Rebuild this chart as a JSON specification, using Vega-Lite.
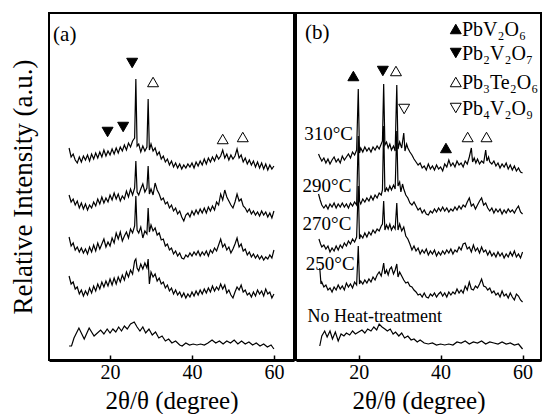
{
"$schema":"https://vega.github.io/schema/vega-lite/v6.json",
"padding":{"left":8,"top":12,"right":3,"bottom":0},
"spacing":0,
"config":{"view":{"stroke":"black","strokeWidth":2},"font":"Liberation Serif","axis":{"labelFont":"Liberation Serif","titleFont":"Liberation Serif","titleFontWeight":"normal","grid":false,"titleColor":"black","labelColor":"black"}},
"datasets":{
"a":[
{"s":1,"x":10,"y":212},{"s":1,"x":10.5,"y":203},{"s":1,"x":11,"y":206},{"s":1,"x":11.5,"y":200},{"s":1,"x":12,"y":197},{"s":1,"x":12.5,"y":203},{"s":1,"x":13,"y":198},{"s":1,"x":13.5,"y":204},{"s":1,"x":14,"y":200},{"s":1,"x":14.5,"y":205},{"s":1,"x":15,"y":199},{"s":1,"x":15.5,"y":206},{"s":1,"x":16,"y":201},{"s":1,"x":16.5,"y":207},{"s":1,"x":17,"y":202},{"s":1,"x":17.5,"y":208},{"s":1,"x":18,"y":203},{"s":1,"x":18.5,"y":210},{"s":1,"x":19,"y":204},{"s":1,"x":19.5,"y":209},{"s":1,"x":20,"y":205},{"s":1,"x":20.5,"y":211},{"s":1,"x":21,"y":206},{"s":1,"x":21.5,"y":212},{"s":1,"x":22,"y":207},{"s":1,"x":22.5,"y":213},{"s":1,"x":23,"y":209},{"s":1,"x":23.5,"y":215},{"s":1,"x":24,"y":210},{"s":1,"x":24.5,"y":217},{"s":1,"x":25,"y":213},{"s":1,"x":25.5,"y":219},{"s":1,"x":26,"y":222},{"s":1,"x":26.3,"y":281},{"s":1,"x":26.6,"y":214},{"s":1,"x":27,"y":216},{"s":1,"x":27.5,"y":208},{"s":1,"x":28,"y":214},{"s":1,"x":28.5,"y":209},{"s":1,"x":29,"y":213},{"s":1,"x":29.3,"y":261},{"s":1,"x":29.6,"y":210},{"s":1,"x":30,"y":216},{"s":1,"x":30.5,"y":209},{"s":1,"x":31,"y":212},{"s":1,"x":31.5,"y":205},{"s":1,"x":32,"y":208},{"s":1,"x":32.5,"y":201},{"s":1,"x":33,"y":204},{"s":1,"x":33.5,"y":198},{"s":1,"x":34,"y":201},{"s":1,"x":34.5,"y":195},{"s":1,"x":35,"y":199},{"s":1,"x":35.5,"y":193},{"s":1,"x":36,"y":197},{"s":1,"x":36.5,"y":192},{"s":1,"x":37,"y":196},{"s":1,"x":37.5,"y":191},{"s":1,"x":38,"y":195},{"s":1,"x":38.5,"y":192},{"s":1,"x":39,"y":196},{"s":1,"x":39.5,"y":193},{"s":1,"x":40,"y":197},{"s":1,"x":40.5,"y":192},{"s":1,"x":41,"y":198},{"s":1,"x":41.5,"y":194},{"s":1,"x":42,"y":199},{"s":1,"x":42.5,"y":195},{"s":1,"x":43,"y":201},{"s":1,"x":43.5,"y":196},{"s":1,"x":44,"y":202},{"s":1,"x":44.5,"y":198},{"s":1,"x":45,"y":203},{"s":1,"x":45.5,"y":199},{"s":1,"x":46,"y":205},{"s":1,"x":46.5,"y":201},{"s":1,"x":47,"y":204},{"s":1,"x":47.5,"y":210},{"s":1,"x":48,"y":202},{"s":1,"x":48.5,"y":206},{"s":1,"x":49,"y":200},{"s":1,"x":49.5,"y":205},{"s":1,"x":50,"y":201},{"s":1,"x":50.5,"y":204},{"s":1,"x":51,"y":211},{"s":1,"x":51.5,"y":202},{"s":1,"x":52,"y":205},{"s":1,"x":52.5,"y":198},{"s":1,"x":53,"y":202},{"s":1,"x":53.5,"y":196},{"s":1,"x":54,"y":200},{"s":1,"x":54.5,"y":195},{"s":1,"x":55,"y":199},{"s":1,"x":55.5,"y":193},{"s":1,"x":56,"y":198},{"s":1,"x":56.5,"y":192},{"s":1,"x":57,"y":197},{"s":1,"x":57.5,"y":191},{"s":1,"x":58,"y":196},{"s":1,"x":58.5,"y":190},{"s":1,"x":59,"y":195},{"s":1,"x":59.5,"y":191},{"s":1,"x":60,"y":194},
{"s":2,"x":10,"y":165},{"s":2,"x":10.5,"y":158},{"s":2,"x":11,"y":161},{"s":2,"x":11.5,"y":155},{"s":2,"x":12,"y":159},{"s":2,"x":12.5,"y":152},{"s":2,"x":13,"y":157},{"s":2,"x":13.5,"y":151},{"s":2,"x":14,"y":156},{"s":2,"x":14.5,"y":150},{"s":2,"x":15,"y":155},{"s":2,"x":15.5,"y":152},{"s":2,"x":16,"y":158},{"s":2,"x":16.5,"y":154},{"s":2,"x":17,"y":161},{"s":2,"x":17.5,"y":156},{"s":2,"x":18,"y":163},{"s":2,"x":18.5,"y":157},{"s":2,"x":19,"y":162},{"s":2,"x":19.5,"y":158},{"s":2,"x":20,"y":165},{"s":2,"x":20.5,"y":160},{"s":2,"x":21,"y":167},{"s":2,"x":21.5,"y":161},{"s":2,"x":22,"y":166},{"s":2,"x":22.5,"y":159},{"s":2,"x":23,"y":164},{"s":2,"x":23.5,"y":161},{"s":2,"x":24,"y":169},{"s":2,"x":24.5,"y":163},{"s":2,"x":25,"y":171},{"s":2,"x":25.5,"y":165},{"s":2,"x":26,"y":172},{"s":2,"x":26.3,"y":199},{"s":2,"x":26.6,"y":168},{"s":2,"x":27,"y":165},{"s":2,"x":27.5,"y":171},{"s":2,"x":28,"y":176},{"s":2,"x":28.5,"y":168},{"s":2,"x":29,"y":172},{"s":2,"x":29.3,"y":194},{"s":2,"x":29.6,"y":166},{"s":2,"x":30,"y":171},{"s":2,"x":30.5,"y":165},{"s":2,"x":31,"y":177},{"s":2,"x":31.5,"y":170},{"s":2,"x":32,"y":166},{"s":2,"x":32.5,"y":160},{"s":2,"x":33,"y":162},{"s":2,"x":33.5,"y":156},{"s":2,"x":34,"y":158},{"s":2,"x":34.5,"y":152},{"s":2,"x":35,"y":155},{"s":2,"x":35.5,"y":149},{"s":2,"x":36,"y":152},{"s":2,"x":36.5,"y":146},{"s":2,"x":37,"y":149},{"s":2,"x":37.5,"y":143},{"s":2,"x":38,"y":139},{"s":2,"x":38.5,"y":145},{"s":2,"x":39,"y":147},{"s":2,"x":39.5,"y":143},{"s":2,"x":40,"y":149},{"s":2,"x":40.5,"y":145},{"s":2,"x":41,"y":150},{"s":2,"x":41.5,"y":146},{"s":2,"x":42,"y":151},{"s":2,"x":42.5,"y":147},{"s":2,"x":43,"y":152},{"s":2,"x":43.5,"y":147},{"s":2,"x":44,"y":153},{"s":2,"x":44.5,"y":149},{"s":2,"x":45,"y":154},{"s":2,"x":45.5,"y":150},{"s":2,"x":46,"y":158},{"s":2,"x":46.5,"y":155},{"s":2,"x":47,"y":166},{"s":2,"x":47.5,"y":160},{"s":2,"x":48,"y":170},{"s":2,"x":48.5,"y":163},{"s":2,"x":49,"y":159},{"s":2,"x":49.5,"y":155},{"s":2,"x":50,"y":152},{"s":2,"x":50.5,"y":158},{"s":2,"x":51,"y":166},{"s":2,"x":51.5,"y":159},{"s":2,"x":52,"y":161},{"s":2,"x":52.5,"y":154},{"s":2,"x":53,"y":152},{"s":2,"x":53.5,"y":148},{"s":2,"x":54,"y":151},{"s":2,"x":54.5,"y":146},{"s":2,"x":55,"y":149},{"s":2,"x":55.5,"y":145},{"s":2,"x":56,"y":148},{"s":2,"x":56.5,"y":144},{"s":2,"x":57,"y":149},{"s":2,"x":57.5,"y":145},{"s":2,"x":58,"y":148},{"s":2,"x":58.5,"y":143},{"s":2,"x":59,"y":147},{"s":2,"x":59.5,"y":142},{"s":2,"x":60,"y":149},
{"s":3,"x":10,"y":123},{"s":3,"x":10.5,"y":114},{"s":3,"x":11,"y":117},{"s":3,"x":11.5,"y":110},{"s":3,"x":12,"y":113},{"s":3,"x":12.5,"y":108},{"s":3,"x":13,"y":112},{"s":3,"x":13.5,"y":107},{"s":3,"x":14,"y":111},{"s":3,"x":14.5,"y":106},{"s":3,"x":15,"y":113},{"s":3,"x":15.5,"y":108},{"s":3,"x":16,"y":115},{"s":3,"x":16.5,"y":109},{"s":3,"x":17,"y":117},{"s":3,"x":17.5,"y":111},{"s":3,"x":18,"y":116},{"s":3,"x":18.5,"y":121},{"s":3,"x":19,"y":113},{"s":3,"x":19.5,"y":118},{"s":3,"x":20,"y":114},{"s":3,"x":20.5,"y":122},{"s":3,"x":21,"y":117},{"s":3,"x":21.5,"y":127},{"s":3,"x":22,"y":121},{"s":3,"x":22.5,"y":128},{"s":3,"x":23,"y":119},{"s":3,"x":23.5,"y":124},{"s":3,"x":24,"y":128},{"s":3,"x":24.5,"y":122},{"s":3,"x":25,"y":131},{"s":3,"x":25.5,"y":127},{"s":3,"x":26,"y":134},{"s":3,"x":26.3,"y":164},{"s":3,"x":26.6,"y":130},{"s":3,"x":27,"y":127},{"s":3,"x":27.5,"y":133},{"s":3,"x":28,"y":122},{"s":3,"x":28.5,"y":129},{"s":3,"x":29,"y":126},{"s":3,"x":29.3,"y":152},{"s":3,"x":29.6,"y":128},{"s":3,"x":30,"y":135},{"s":3,"x":30.5,"y":129},{"s":3,"x":31,"y":132},{"s":3,"x":31.5,"y":125},{"s":3,"x":32,"y":127},{"s":3,"x":32.5,"y":120},{"s":3,"x":33,"y":121},{"s":3,"x":33.5,"y":114},{"s":3,"x":34,"y":116},{"s":3,"x":34.5,"y":110},{"s":3,"x":35,"y":112},{"s":3,"x":35.5,"y":106},{"s":3,"x":36,"y":109},{"s":3,"x":36.5,"y":104},{"s":3,"x":37,"y":107},{"s":3,"x":37.5,"y":102},{"s":3,"x":38,"y":101},{"s":3,"x":38.5,"y":105},{"s":3,"x":39,"y":103},{"s":3,"x":39.5,"y":107},{"s":3,"x":40,"y":104},{"s":3,"x":40.5,"y":108},{"s":3,"x":41,"y":105},{"s":3,"x":41.5,"y":109},{"s":3,"x":42,"y":104},{"s":3,"x":42.5,"y":108},{"s":3,"x":43,"y":105},{"s":3,"x":43.5,"y":109},{"s":3,"x":44,"y":104},{"s":3,"x":44.5,"y":110},{"s":3,"x":45,"y":107},{"s":3,"x":45.5,"y":112},{"s":3,"x":46,"y":109},{"s":3,"x":46.5,"y":115},{"s":3,"x":47,"y":121},{"s":3,"x":47.5,"y":113},{"s":3,"x":48,"y":116},{"s":3,"x":48.5,"y":110},{"s":3,"x":49,"y":113},{"s":3,"x":49.5,"y":107},{"s":3,"x":50,"y":111},{"s":3,"x":50.5,"y":116},{"s":3,"x":51,"y":122},{"s":3,"x":51.5,"y":113},{"s":3,"x":52,"y":116},{"s":3,"x":52.5,"y":109},{"s":3,"x":53,"y":111},{"s":3,"x":53.5,"y":105},{"s":3,"x":54,"y":108},{"s":3,"x":54.5,"y":103},{"s":3,"x":55,"y":106},{"s":3,"x":55.5,"y":102},{"s":3,"x":56,"y":105},{"s":3,"x":56.5,"y":101},{"s":3,"x":57,"y":104},{"s":3,"x":57.5,"y":100},{"s":3,"x":58,"y":103},{"s":3,"x":58.5,"y":101},{"s":3,"x":59,"y":105},{"s":3,"x":59.5,"y":102},{"s":3,"x":60,"y":110},
{"s":4,"x":10,"y":84},{"s":4,"x":10.5,"y":76},{"s":4,"x":11,"y":78},{"s":4,"x":11.5,"y":71},{"s":4,"x":12,"y":73},{"s":4,"x":12.5,"y":66},{"s":4,"x":13,"y":70},{"s":4,"x":13.5,"y":64},{"s":4,"x":14,"y":69},{"s":4,"x":14.5,"y":65},{"s":4,"x":15,"y":72},{"s":4,"x":15.5,"y":67},{"s":4,"x":16,"y":74},{"s":4,"x":16.5,"y":69},{"s":4,"x":17,"y":76},{"s":4,"x":17.5,"y":71},{"s":4,"x":18,"y":78},{"s":4,"x":18.5,"y":73},{"s":4,"x":19,"y":79},{"s":4,"x":19.5,"y":74},{"s":4,"x":20,"y":81},{"s":4,"x":20.5,"y":75},{"s":4,"x":21,"y":82},{"s":4,"x":21.5,"y":76},{"s":4,"x":22,"y":83},{"s":4,"x":22.5,"y":78},{"s":4,"x":23,"y":85},{"s":4,"x":23.5,"y":80},{"s":4,"x":24,"y":88},{"s":4,"x":24.5,"y":83},{"s":4,"x":25,"y":90},{"s":4,"x":25.5,"y":86},{"s":4,"x":26,"y":99},{"s":4,"x":26.3,"y":101},{"s":4,"x":26.6,"y":92},{"s":4,"x":27,"y":89},{"s":4,"x":27.5,"y":96},{"s":4,"x":28,"y":91},{"s":4,"x":28.5,"y":97},{"s":4,"x":29,"y":92},{"s":4,"x":29.3,"y":101},{"s":4,"x":29.6,"y":76},{"s":4,"x":30,"y":88},{"s":4,"x":30.5,"y":83},{"s":4,"x":31,"y":86},{"s":4,"x":31.5,"y":79},{"s":4,"x":32,"y":82},{"s":4,"x":32.5,"y":76},{"s":4,"x":33,"y":78},{"s":4,"x":33.5,"y":72},{"s":4,"x":34,"y":75},{"s":4,"x":34.5,"y":69},{"s":4,"x":35,"y":72},{"s":4,"x":35.5,"y":66},{"s":4,"x":36,"y":70},{"s":4,"x":36.5,"y":65},{"s":4,"x":37,"y":68},{"s":4,"x":37.5,"y":63},{"s":4,"x":38,"y":67},{"s":4,"x":38.5,"y":62},{"s":4,"x":39,"y":66},{"s":4,"x":39.5,"y":63},{"s":4,"x":40,"y":68},{"s":4,"x":40.5,"y":64},{"s":4,"x":41,"y":69},{"s":4,"x":41.5,"y":65},{"s":4,"x":42,"y":70},{"s":4,"x":42.5,"y":66},{"s":4,"x":43,"y":71},{"s":4,"x":43.5,"y":67},{"s":4,"x":44,"y":72},{"s":4,"x":44.5,"y":68},{"s":4,"x":45,"y":74},{"s":4,"x":45.5,"y":69},{"s":4,"x":46,"y":73},{"s":4,"x":46.5,"y":70},{"s":4,"x":47,"y":76},{"s":4,"x":47.5,"y":71},{"s":4,"x":48,"y":75},{"s":4,"x":48.5,"y":67},{"s":4,"x":49,"y":70},{"s":4,"x":49.5,"y":65},{"s":4,"x":50,"y":62},{"s":4,"x":50.5,"y":68},{"s":4,"x":51,"y":73},{"s":4,"x":51.5,"y":70},{"s":4,"x":52,"y":75},{"s":4,"x":52.5,"y":68},{"s":4,"x":53,"y":70},{"s":4,"x":53.5,"y":65},{"s":4,"x":54,"y":67},{"s":4,"x":54.5,"y":63},{"s":4,"x":55,"y":68},{"s":4,"x":55.5,"y":64},{"s":4,"x":56,"y":70},{"s":4,"x":56.5,"y":66},{"s":4,"x":57,"y":69},{"s":4,"x":57.5,"y":64},{"s":4,"x":58,"y":71},{"s":4,"x":58.5,"y":66},{"s":4,"x":59,"y":68},{"s":4,"x":59.5,"y":62},{"s":4,"x":60,"y":66},
{"s":5,"x":10,"y":14},{"s":5,"x":10.6,"y":14},{"s":5,"x":11.2,"y":22},{"s":5,"x":12.4,"y":32},{"s":5,"x":13.7,"y":21},{"s":5,"x":14.9,"y":32},{"s":5,"x":16.1,"y":24},{"s":5,"x":17.7,"y":30},{"s":5,"x":18.5,"y":26},{"s":5,"x":19.3,"y":31},{"s":5,"x":20,"y":27},{"s":5,"x":20.7,"y":31},{"s":5,"x":21.4,"y":28},{"s":5,"x":22.1,"y":33},{"s":5,"x":22.8,"y":29},{"s":5,"x":23.5,"y":34},{"s":5,"x":24.2,"y":31},{"s":5,"x":25,"y":36},{"s":5,"x":25.9,"y":38},{"s":5,"x":26.6,"y":33},{"s":5,"x":27.3,"y":29},{"s":5,"x":28,"y":33},{"s":5,"x":28.7,"y":27},{"s":5,"x":29.5,"y":31},{"s":5,"x":30.3,"y":25},{"s":5,"x":31.1,"y":28},{"s":5,"x":31.9,"y":22},{"s":5,"x":32.7,"y":24},{"s":5,"x":33.5,"y":19},{"s":5,"x":34.3,"y":21},{"s":5,"x":35.1,"y":17},{"s":5,"x":36,"y":19},{"s":5,"x":37,"y":15},{"s":5,"x":37.6,"y":14},{"s":5,"x":38.5,"y":17},{"s":5,"x":39.4,"y":15},{"s":5,"x":40.3,"y":16},{"s":5,"x":41.2,"y":15},{"s":5,"x":42.1,"y":16},{"s":5,"x":43,"y":15},{"s":5,"x":43.9,"y":17},{"s":5,"x":44.9,"y":20},{"s":5,"x":45.8,"y":17},{"s":5,"x":46.7,"y":19},{"s":5,"x":47.6,"y":16},{"s":5,"x":48.5,"y":19},{"s":5,"x":49.4,"y":17},{"s":5,"x":50.3,"y":20},{"s":5,"x":51.2,"y":16},{"s":5,"x":52.1,"y":19},{"s":5,"x":53,"y":16},{"s":5,"x":53.9,"y":18},{"s":5,"x":54.8,"y":15},{"s":5,"x":55.7,"y":17},{"s":5,"x":56.6,"y":14},{"s":5,"x":57.5,"y":16},{"s":5,"x":58.4,"y":13},{"s":5,"x":59.3,"y":15},{"s":5,"x":60,"y":11}
],
"b":[
{"s":1,"x":10.2,"y":206},{"s":1,"x":10.5,"y":203},{"s":1,"x":11,"y":199},{"s":1,"x":11.5,"y":202},{"s":1,"x":12,"y":197},{"s":1,"x":12.5,"y":201},{"s":1,"x":13,"y":196},{"s":1,"x":13.5,"y":200},{"s":1,"x":14,"y":203},{"s":1,"x":14.5,"y":198},{"s":1,"x":15,"y":201},{"s":1,"x":15.5,"y":197},{"s":1,"x":16,"y":204},{"s":1,"x":16.5,"y":200},{"s":1,"x":17,"y":203},{"s":1,"x":17.5,"y":206},{"s":1,"x":18,"y":202},{"s":1,"x":18.5,"y":208},{"s":1,"x":19,"y":205},{"s":1,"x":19.5,"y":210},{"s":1,"x":19.9,"y":271},{"s":1,"x":20.2,"y":207},{"s":1,"x":20.5,"y":212},{"s":1,"x":21,"y":208},{"s":1,"x":21.5,"y":213},{"s":1,"x":22,"y":209},{"s":1,"x":22.5,"y":212},{"s":1,"x":23,"y":208},{"s":1,"x":23.5,"y":213},{"s":1,"x":24,"y":210},{"s":1,"x":24.5,"y":214},{"s":1,"x":25,"y":211},{"s":1,"x":25.5,"y":216},{"s":1,"x":25.8,"y":219},{"s":1,"x":26.1,"y":276},{"s":1,"x":26.4,"y":215},{"s":1,"x":26.8,"y":218},{"s":1,"x":27.2,"y":212},{"s":1,"x":27.6,"y":216},{"s":1,"x":28,"y":210},{"s":1,"x":28.5,"y":214},{"s":1,"x":28.9,"y":209},{"s":1,"x":29.3,"y":275},{"s":1,"x":29.6,"y":211},{"s":1,"x":30,"y":218},{"s":1,"x":30.5,"y":212},{"s":1,"x":31,"y":227},{"s":1,"x":31.3,"y":209},{"s":1,"x":31.7,"y":216},{"s":1,"x":32,"y":212},{"s":1,"x":32.5,"y":208},{"s":1,"x":33,"y":205},{"s":1,"x":33.5,"y":201},{"s":1,"x":34,"y":198},{"s":1,"x":34.5,"y":195},{"s":1,"x":35,"y":197},{"s":1,"x":35.5,"y":192},{"s":1,"x":36,"y":194},{"s":1,"x":36.5,"y":190},{"s":1,"x":37,"y":196},{"s":1,"x":37.5,"y":191},{"s":1,"x":38,"y":194},{"s":1,"x":38.5,"y":190},{"s":1,"x":39,"y":195},{"s":1,"x":39.5,"y":191},{"s":1,"x":40,"y":193},{"s":1,"x":40.5,"y":189},{"s":1,"x":41,"y":196},{"s":1,"x":41.5,"y":193},{"s":1,"x":42,"y":200},{"s":1,"x":42.5,"y":194},{"s":1,"x":43,"y":197},{"s":1,"x":43.5,"y":193},{"s":1,"x":44,"y":199},{"s":1,"x":44.5,"y":195},{"s":1,"x":45,"y":197},{"s":1,"x":45.5,"y":193},{"s":1,"x":46,"y":199},{"s":1,"x":46.5,"y":196},{"s":1,"x":47,"y":203},{"s":1,"x":47.5,"y":212},{"s":1,"x":47.8,"y":198},{"s":1,"x":48.2,"y":202},{"s":1,"x":48.6,"y":197},{"s":1,"x":49,"y":201},{"s":1,"x":49.5,"y":196},{"s":1,"x":50,"y":199},{"s":1,"x":50.5,"y":197},{"s":1,"x":51,"y":210},{"s":1,"x":51.3,"y":199},{"s":1,"x":51.7,"y":203},{"s":1,"x":52,"y":198},{"s":1,"x":52.5,"y":196},{"s":1,"x":53,"y":199},{"s":1,"x":53.5,"y":194},{"s":1,"x":54,"y":197},{"s":1,"x":54.5,"y":192},{"s":1,"x":55,"y":196},{"s":1,"x":55.5,"y":193},{"s":1,"x":56,"y":197},{"s":1,"x":56.5,"y":191},{"s":1,"x":57,"y":195},{"s":1,"x":57.5,"y":190},{"s":1,"x":58,"y":194},{"s":1,"x":58.5,"y":189},{"s":1,"x":59,"y":192},{"s":1,"x":59.5,"y":188},{"s":1,"x":60,"y":187},
{"s":2,"x":10.2,"y":166},{"s":2,"x":10.6,"y":160},{"s":2,"x":11,"y":155},{"s":2,"x":11.5,"y":152},{"s":2,"x":12,"y":155},{"s":2,"x":12.5,"y":151},{"s":2,"x":13,"y":156},{"s":2,"x":13.5,"y":153},{"s":2,"x":14,"y":157},{"s":2,"x":14.5,"y":152},{"s":2,"x":15,"y":156},{"s":2,"x":15.5,"y":153},{"s":2,"x":16,"y":157},{"s":2,"x":16.5,"y":153},{"s":2,"x":17,"y":156},{"s":2,"x":17.5,"y":152},{"s":2,"x":18,"y":157},{"s":2,"x":18.5,"y":154},{"s":2,"x":19,"y":158},{"s":2,"x":19.5,"y":155},{"s":2,"x":19.9,"y":224},{"s":2,"x":20.2,"y":159},{"s":2,"x":20.5,"y":156},{"s":2,"x":21,"y":161},{"s":2,"x":21.5,"y":158},{"s":2,"x":22,"y":162},{"s":2,"x":22.5,"y":159},{"s":2,"x":23,"y":164},{"s":2,"x":23.5,"y":160},{"s":2,"x":24,"y":165},{"s":2,"x":24.5,"y":162},{"s":2,"x":25,"y":167},{"s":2,"x":25.5,"y":165},{"s":2,"x":25.8,"y":170},{"s":2,"x":26.1,"y":234},{"s":2,"x":26.4,"y":168},{"s":2,"x":26.8,"y":172},{"s":2,"x":27.2,"y":169},{"s":2,"x":27.6,"y":174},{"s":2,"x":28,"y":170},{"s":2,"x":28.5,"y":175},{"s":2,"x":28.9,"y":171},{"s":2,"x":29.3,"y":229},{"s":2,"x":29.6,"y":174},{"s":2,"x":30,"y":178},{"s":2,"x":30.3,"y":168},{"s":2,"x":30.7,"y":176},{"s":2,"x":31,"y":171},{"s":2,"x":31.5,"y":165},{"s":2,"x":32,"y":162},{"s":2,"x":32.5,"y":157},{"s":2,"x":33,"y":155},{"s":2,"x":33.5,"y":158},{"s":2,"x":34,"y":154},{"s":2,"x":34.5,"y":150},{"s":2,"x":35,"y":152},{"s":2,"x":35.5,"y":147},{"s":2,"x":36,"y":150},{"s":2,"x":36.5,"y":146},{"s":2,"x":37,"y":145},{"s":2,"x":37.5,"y":149},{"s":2,"x":38,"y":147},{"s":2,"x":38.5,"y":151},{"s":2,"x":39,"y":148},{"s":2,"x":39.5,"y":152},{"s":2,"x":40,"y":149},{"s":2,"x":40.5,"y":153},{"s":2,"x":41,"y":149},{"s":2,"x":41.5,"y":152},{"s":2,"x":42,"y":148},{"s":2,"x":42.5,"y":151},{"s":2,"x":43,"y":149},{"s":2,"x":43.5,"y":153},{"s":2,"x":44,"y":150},{"s":2,"x":44.5,"y":154},{"s":2,"x":45,"y":151},{"s":2,"x":45.5,"y":155},{"s":2,"x":46,"y":153},{"s":2,"x":46.5,"y":158},{"s":2,"x":47,"y":162},{"s":2,"x":47.5,"y":154},{"s":2,"x":48,"y":156},{"s":2,"x":48.5,"y":151},{"s":2,"x":49,"y":155},{"s":2,"x":49.5,"y":159},{"s":2,"x":50,"y":162},{"s":2,"x":50.5,"y":155},{"s":2,"x":51,"y":157},{"s":2,"x":51.5,"y":152},{"s":2,"x":52,"y":149},{"s":2,"x":52.5,"y":152},{"s":2,"x":53,"y":147},{"s":2,"x":53.5,"y":151},{"s":2,"x":54,"y":148},{"s":2,"x":54.5,"y":151},{"s":2,"x":55,"y":146},{"s":2,"x":55.5,"y":150},{"s":2,"x":56,"y":147},{"s":2,"x":56.5,"y":151},{"s":2,"x":57,"y":148},{"s":2,"x":57.5,"y":150},{"s":2,"x":58,"y":147},{"s":2,"x":58.5,"y":151},{"s":2,"x":59,"y":154},{"s":2,"x":59.5,"y":148},{"s":2,"x":60,"y":146},
{"s":3,"x":10.3,"y":121},{"s":3,"x":10.7,"y":116},{"s":3,"x":11,"y":113},{"s":3,"x":11.5,"y":115},{"s":3,"x":12,"y":111},{"s":3,"x":12.5,"y":114},{"s":3,"x":13,"y":108},{"s":3,"x":13.5,"y":112},{"s":3,"x":14,"y":109},{"s":3,"x":14.5,"y":114},{"s":3,"x":15,"y":110},{"s":3,"x":15.5,"y":115},{"s":3,"x":16,"y":112},{"s":3,"x":16.5,"y":117},{"s":3,"x":17,"y":114},{"s":3,"x":17.5,"y":119},{"s":3,"x":18,"y":116},{"s":3,"x":18.5,"y":121},{"s":3,"x":19,"y":118},{"s":3,"x":19.5,"y":123},{"s":3,"x":19.9,"y":174},{"s":3,"x":20.2,"y":121},{"s":3,"x":20.5,"y":125},{"s":3,"x":21,"y":122},{"s":3,"x":21.5,"y":127},{"s":3,"x":22,"y":123},{"s":3,"x":22.5,"y":128},{"s":3,"x":23,"y":125},{"s":3,"x":23.5,"y":130},{"s":3,"x":24,"y":127},{"s":3,"x":24.5,"y":131},{"s":3,"x":25,"y":129},{"s":3,"x":25.5,"y":134},{"s":3,"x":25.8,"y":136},{"s":3,"x":26.1,"y":159},{"s":3,"x":26.4,"y":130},{"s":3,"x":26.8,"y":135},{"s":3,"x":27.2,"y":131},{"s":3,"x":27.6,"y":136},{"s":3,"x":28,"y":130},{"s":3,"x":28.5,"y":134},{"s":3,"x":28.9,"y":131},{"s":3,"x":29.3,"y":157},{"s":3,"x":29.6,"y":130},{"s":3,"x":30,"y":136},{"s":3,"x":30.5,"y":129},{"s":3,"x":31,"y":133},{"s":3,"x":31.5,"y":124},{"s":3,"x":32,"y":121},{"s":3,"x":32.5,"y":116},{"s":3,"x":33,"y":110},{"s":3,"x":33.5,"y":114},{"s":3,"x":34,"y":109},{"s":3,"x":34.5,"y":112},{"s":3,"x":35,"y":106},{"s":3,"x":35.5,"y":110},{"s":3,"x":36,"y":107},{"s":3,"x":36.5,"y":111},{"s":3,"x":37,"y":105},{"s":3,"x":37.5,"y":109},{"s":3,"x":38,"y":106},{"s":3,"x":38.5,"y":110},{"s":3,"x":39,"y":104},{"s":3,"x":39.5,"y":108},{"s":3,"x":40,"y":105},{"s":3,"x":40.5,"y":109},{"s":3,"x":41,"y":106},{"s":3,"x":41.5,"y":110},{"s":3,"x":42,"y":107},{"s":3,"x":42.5,"y":111},{"s":3,"x":43,"y":106},{"s":3,"x":43.5,"y":110},{"s":3,"x":44,"y":108},{"s":3,"x":44.5,"y":113},{"s":3,"x":45,"y":110},{"s":3,"x":45.5,"y":116},{"s":3,"x":46,"y":117},{"s":3,"x":46.5,"y":111},{"s":3,"x":47,"y":113},{"s":3,"x":47.5,"y":108},{"s":3,"x":48,"y":115},{"s":3,"x":48.5,"y":109},{"s":3,"x":49,"y":112},{"s":3,"x":49.5,"y":107},{"s":3,"x":50,"y":113},{"s":3,"x":50.5,"y":108},{"s":3,"x":51,"y":110},{"s":3,"x":51.5,"y":105},{"s":3,"x":52,"y":109},{"s":3,"x":52.5,"y":104},{"s":3,"x":53,"y":107},{"s":3,"x":53.5,"y":103},{"s":3,"x":54,"y":108},{"s":3,"x":54.5,"y":104},{"s":3,"x":55,"y":107},{"s":3,"x":55.5,"y":102},{"s":3,"x":56,"y":106},{"s":3,"x":56.5,"y":103},{"s":3,"x":57,"y":108},{"s":3,"x":57.5,"y":104},{"s":3,"x":58,"y":109},{"s":3,"x":58.5,"y":103},{"s":3,"x":59,"y":106},{"s":3,"x":59.5,"y":102},{"s":3,"x":60,"y":108},
{"s":4,"x":10.5,"y":92},{"s":4,"x":10.8,"y":76},{"s":4,"x":11,"y":78},{"s":4,"x":11.5,"y":73},{"s":4,"x":12,"y":75},{"s":4,"x":12.5,"y":70},{"s":4,"x":13,"y":72},{"s":4,"x":13.5,"y":68},{"s":4,"x":14,"y":73},{"s":4,"x":14.5,"y":70},{"s":4,"x":15,"y":75},{"s":4,"x":15.5,"y":71},{"s":4,"x":16,"y":74},{"s":4,"x":16.5,"y":70},{"s":4,"x":17,"y":77},{"s":4,"x":17.5,"y":73},{"s":4,"x":18,"y":76},{"s":4,"x":18.5,"y":72},{"s":4,"x":19,"y":78},{"s":4,"x":19.5,"y":75},{"s":4,"x":19.9,"y":114},{"s":4,"x":20.2,"y":76},{"s":4,"x":20.5,"y":79},{"s":4,"x":21,"y":76},{"s":4,"x":21.5,"y":80},{"s":4,"x":22,"y":77},{"s":4,"x":22.5,"y":81},{"s":4,"x":23,"y":78},{"s":4,"x":23.5,"y":83},{"s":4,"x":24,"y":80},{"s":4,"x":24.5,"y":85},{"s":4,"x":25,"y":88},{"s":4,"x":25.5,"y":84},{"s":4,"x":25.8,"y":90},{"s":4,"x":26.1,"y":97},{"s":4,"x":26.4,"y":86},{"s":4,"x":26.8,"y":90},{"s":4,"x":27.2,"y":85},{"s":4,"x":27.6,"y":91},{"s":4,"x":28,"y":93},{"s":4,"x":28.5,"y":86},{"s":4,"x":28.9,"y":90},{"s":4,"x":29.3,"y":96},{"s":4,"x":29.6,"y":83},{"s":4,"x":30,"y":88},{"s":4,"x":30.5,"y":84},{"s":4,"x":31,"y":80},{"s":4,"x":31.5,"y":77},{"s":4,"x":32,"y":78},{"s":4,"x":32.5,"y":74},{"s":4,"x":33,"y":73},{"s":4,"x":33.5,"y":70},{"s":4,"x":34,"y":68},{"s":4,"x":34.5,"y":65},{"s":4,"x":35,"y":66},{"s":4,"x":35.5,"y":63},{"s":4,"x":36,"y":67},{"s":4,"x":36.5,"y":63},{"s":4,"x":37,"y":62},{"s":4,"x":37.5,"y":66},{"s":4,"x":38,"y":64},{"s":4,"x":38.5,"y":67},{"s":4,"x":39,"y":63},{"s":4,"x":39.5,"y":66},{"s":4,"x":40,"y":68},{"s":4,"x":40.5,"y":64},{"s":4,"x":41,"y":67},{"s":4,"x":41.5,"y":63},{"s":4,"x":42,"y":68},{"s":4,"x":42.5,"y":65},{"s":4,"x":43,"y":68},{"s":4,"x":43.5,"y":66},{"s":4,"x":44,"y":71},{"s":4,"x":44.5,"y":67},{"s":4,"x":45,"y":70},{"s":4,"x":45.5,"y":67},{"s":4,"x":46,"y":74},{"s":4,"x":46.5,"y":70},{"s":4,"x":47,"y":78},{"s":4,"x":47.5,"y":71},{"s":4,"x":48,"y":70},{"s":4,"x":48.5,"y":74},{"s":4,"x":49,"y":72},{"s":4,"x":49.5,"y":76},{"s":4,"x":50,"y":81},{"s":4,"x":50.5,"y":74},{"s":4,"x":51,"y":73},{"s":4,"x":51.5,"y":70},{"s":4,"x":52,"y":72},{"s":4,"x":52.5,"y":67},{"s":4,"x":53,"y":69},{"s":4,"x":53.5,"y":65},{"s":4,"x":54,"y":67},{"s":4,"x":54.5,"y":63},{"s":4,"x":55,"y":69},{"s":4,"x":55.5,"y":64},{"s":4,"x":56,"y":66},{"s":4,"x":56.5,"y":62},{"s":4,"x":57,"y":67},{"s":4,"x":57.5,"y":63},{"s":4,"x":58,"y":60},{"s":4,"x":58.5,"y":66},{"s":4,"x":59,"y":64},{"s":4,"x":59.5,"y":60},{"s":4,"x":60,"y":58},
{"s":5,"x":10.5,"y":14},{"s":5,"x":11,"y":24},{"s":5,"x":11.7,"y":29},{"s":5,"x":12.3,"y":23},{"s":5,"x":13,"y":29},{"s":5,"x":13.6,"y":21},{"s":5,"x":14.3,"y":28},{"s":5,"x":15,"y":19},{"s":5,"x":15.7,"y":26},{"s":5,"x":16.4,"y":24},{"s":5,"x":17,"y":27},{"s":5,"x":17.8,"y":25},{"s":5,"x":18.5,"y":29},{"s":5,"x":19.2,"y":26},{"s":5,"x":20,"y":28},{"s":5,"x":20.8,"y":30},{"s":5,"x":21.5,"y":27},{"s":5,"x":22.2,"y":31},{"s":5,"x":23,"y":29},{"s":5,"x":23.7,"y":33},{"s":5,"x":24.4,"y":30},{"s":5,"x":25,"y":36},{"s":5,"x":25.7,"y":33},{"s":5,"x":26.4,"y":31},{"s":5,"x":27,"y":29},{"s":5,"x":27.7,"y":31},{"s":5,"x":28.4,"y":26},{"s":5,"x":29,"y":28},{"s":5,"x":29.8,"y":24},{"s":5,"x":30.5,"y":27},{"s":5,"x":31.2,"y":22},{"s":5,"x":32,"y":24},{"s":5,"x":32.8,"y":20},{"s":5,"x":33.5,"y":21},{"s":5,"x":34.3,"y":18},{"s":5,"x":35,"y":20},{"s":5,"x":36,"y":17},{"s":5,"x":37,"y":16},{"s":5,"x":38,"y":17},{"s":5,"x":39,"y":15},{"s":5,"x":40,"y":16},{"s":5,"x":41,"y":15},{"s":5,"x":42,"y":16},{"s":5,"x":43,"y":15},{"s":5,"x":44,"y":18},{"s":5,"x":45,"y":17},{"s":5,"x":46,"y":19},{"s":5,"x":47,"y":16},{"s":5,"x":48,"y":18},{"s":5,"x":49,"y":17},{"s":5,"x":50,"y":19},{"s":5,"x":51,"y":16},{"s":5,"x":52,"y":18},{"s":5,"x":53,"y":17},{"s":5,"x":54,"y":16},{"s":5,"x":55,"y":18},{"s":5,"x":56,"y":16},{"s":5,"x":57,"y":17},{"s":5,"x":58,"y":15},{"s":5,"x":59,"y":16},{"s":5,"x":60,"y":11}
],
"ma":[
{"x":25.4,"y":297,"k":"Pb2V2O7"},{"x":30.5,"y":278,"k":"Pb3Te2O6"},{"x":19.4,"y":228,"k":"Pb2V2O7"},{"x":23.2,"y":233,"k":"Pb2V2O7"},{"x":47.5,"y":221,"k":"Pb3Te2O6"},{"x":52.4,"y":223,"k":"Pb3Te2O6"}
],
"mb":[
{"x":18.7,"y":284,"k":"PbV2O6"},{"x":25.9,"y":289,"k":"Pb2V2O7"},{"x":29.1,"y":289,"k":"Pb3Te2O6"},{"x":31.1,"y":251,"k":"Pb4V2O9"},{"x":41.3,"y":212,"k":"PbV2O6"},{"x":46.6,"y":223,"k":"Pb3Te2O6"},{"x":51.2,"y":223,"k":"Pb3Te2O6"},
{"x":43.7,"y":331,"k":"PbV2O6"},{"x":43.7,"y":307,"k":"Pb2V2O7"},{"x":43.7,"y":278,"k":"Pb3Te2O6"},{"x":43.7,"y":252,"k":"Pb4V2O9"}
],
"ta":[
{"x":6.1,"y":325,"t":"(a)","k":"panel"}
],
"tb":[
{"x":6.9,"y":327,"t":"(b)","k":"panel"},
{"x":45.2,"y":330,"t":"PbV₂O₆","k":"formula"},{"x":45.2,"y":306,"t":"Pb₂V₂O₇","k":"formula"},{"x":45.2,"y":277,"t":"Pb₃Te₂O₆","k":"formula"},{"x":45.2,"y":251,"t":"Pb₄V₂O₉","k":"formula"},
{"x":6.7,"y":226,"t":"310°C","k":"temp"},{"x":6.3,"y":174,"t":"290°C","k":"temp"},{"x":6.3,"y":136,"t":"270°C","k":"temp"},{"x":7.1,"y":96,"t":"250°C","k":"temp"},
{"x":7.5,"y":43,"t":"No Heat-treatment","k":"note"}
]
},
"hconcat":[
{"width":245,"height":347,
"layer":[
{"data":{"name":"a"},"mark":{"type":"line","stroke":"black","strokeWidth":1.2},
"encoding":{"x":{"field":"x","type":"quantitative","scale":{"domain":[5.1,64.9],"nice":false,"zero":false},
"axis":{"values":[20,40,60],"title":"2θ/θ (degree)","titleFontSize":25,"labelFontSize":20,"tickSize":-5,"tickColor":"black","tickWidth":1.5,"labelPadding":7,"titlePadding":6,"domainColor":"black","domainWidth":3,
"encode":{"labels":{"update":{"font":{"value":"Liberation Serif"}}},"title":{"update":{"font":{"value":"Liberation Serif"}}}}}},
"y":{"field":"y","type":"quantitative","scale":{"domain":[0,347],"nice":false,"zero":false},
"axis":{"title":"Relative Intensity (a.u.)","titleFontSize":27,"labels":false,"ticks":false,"domain":false,"titlePadding":12,
"encode":{"title":{"update":{"font":{"value":"Liberation Serif"}}}}}},
"detail":{"field":"s","type":"nominal"}}},
{"data":{"name":"ma"},"mark":{"type":"point","filled":true,"stroke":"black","strokeWidth":1,"size":120,"opacity":1},
"encoding":{"x":{"field":"x","type":"quantitative"},"y":{"field":"y","type":"quantitative"},
"shape":{"field":"k","type":"nominal","scale":{"domain":["PbV2O6","Pb2V2O7","Pb3Te2O6","Pb4V2O9"],"range":["triangle-up","triangle-down","triangle-up","triangle-down"]},"legend":null},
"fill":{"field":"k","type":"nominal","scale":{"domain":["PbV2O6","Pb2V2O7","Pb3Te2O6","Pb4V2O9"],"range":["black","black","white","white"]},"legend":null}}},
{"data":{"name":"ta"},"mark":{"type":"text","align":"left","baseline":"middle","font":"Liberation Serif","color":"black"},
"encoding":{"x":{"field":"x","type":"quantitative"},"y":{"field":"y","type":"quantitative"},"text":{"field":"t"},
"size":{"field":"k","type":"nominal","scale":{"domain":["panel","formula","temp","note"],"range":[21,18,17,18]},"legend":null}}}
]},
{"width":245,"height":347,
"layer":[
{"data":{"name":"b"},"mark":{"type":"line","stroke":"black","strokeWidth":1.2},
"encoding":{"x":{"field":"x","type":"quantitative","scale":{"domain":[4.7,64.5],"nice":false,"zero":false},
"axis":{"values":[20,40,60],"title":"2θ/θ (degree)","titleFontSize":25,"labelFontSize":20,"tickSize":-5,"tickColor":"black","tickWidth":1.5,"labelPadding":7,"titlePadding":6,"domainColor":"black","domainWidth":3,
"encode":{"labels":{"update":{"font":{"value":"Liberation Serif"}}},"title":{"update":{"font":{"value":"Liberation Serif"}}}}}},
"y":{"field":"y","type":"quantitative","scale":{"domain":[0,347],"nice":false,"zero":false},"axis":null},
"detail":{"field":"s","type":"nominal"}}},
{"data":{"name":"mb"},"mark":{"type":"point","filled":true,"stroke":"black","strokeWidth":1,"size":120,"opacity":1},
"encoding":{"x":{"field":"x","type":"quantitative"},"y":{"field":"y","type":"quantitative"},
"shape":{"field":"k","type":"nominal","scale":{"domain":["PbV2O6","Pb2V2O7","Pb3Te2O6","Pb4V2O9"],"range":["triangle-up","triangle-down","triangle-up","triangle-down"]},"legend":null},
"fill":{"field":"k","type":"nominal","scale":{"domain":["PbV2O6","Pb2V2O7","Pb3Te2O6","Pb4V2O9"],"range":["black","black","white","white"]},"legend":null}}},
{"data":{"name":"tb"},"mark":{"type":"text","align":"left","baseline":"middle","font":"Liberation Serif","color":"black"},
"encoding":{"x":{"field":"x","type":"quantitative"},"y":{"field":"y","type":"quantitative"},"text":{"field":"t"},
"size":{"field":"k","type":"nominal","scale":{"domain":["panel","formula","temp","note"],"range":[21,18,17,18]},"legend":null}}}
]}
]
}
